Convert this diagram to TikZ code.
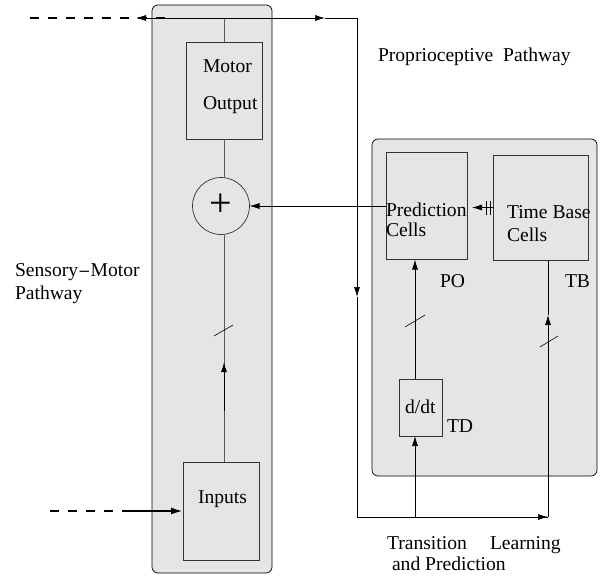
\documentclass[tikz,border=0pt]{standalone}
\usepackage{fontspec}
\setmainfont{Liberation Serif}
\usetikzlibrary{arrows.meta,calc}
\begin{document}
\begin{tikzpicture}[x=1pt,y=-1pt,
  every node/.style={inner sep=0pt,outer sep=0pt},
  lbl/.style={anchor=base west,font=\fontsize{19.6}{22}\selectfont},
  panel/.style={draw=black,fill=black!10,rounded corners=6pt,line width=0.7pt,rectangle},
  boxx/.style={draw=black!80,line width=0.7pt,rectangle},
  gl/.style={draw=black!65,line width=0.8pt},
  bl/.style={draw=black,line width=0.7pt},
  arr/.style={-{Latex[length=10pt,width=6pt]}},
  thickdash/.style={draw=black,line width=2pt,dash pattern=on 9pt off 9pt},
]
\useasboundingbox (0,0) rectangle (600,586);
% panels
\node[panel,minimum width=120,minimum height=568] (lp) at (212,289) {};
\node[panel,minimum width=225,minimum height=337] (rp) at (484.5,307.5) {};
% boxes
\node[boxx,minimum width=76,minimum height=97] (motor) at (224,90.5) {};
\node[draw=black!80,fill=black!10,circle,minimum size=57,line width=0.7pt] (sum) at (221,206) {};
\node[boxx,minimum width=76,minimum height=98] (inputs) at (221,511) {};
\node[boxx,minimum width=81,minimum height=107] (po) at (426.5,206) {};
\node[boxx,minimum width=95,minimum height=105] (tb) at (540.5,207.5) {};
\node[boxx,minimum width=43,minimum height=57] (ddt) at (420.5,407.5) {};
% texts
\node[lbl] (t1) at (203,73) {Motor};
\node[lbl] (t2) at (203,110) {Output};
\node[font=\fontsize{40}{40}\selectfont] (plus) at ($(sum.center)+(0,-1)$) {+};
\node[lbl] (t3) at (198,503) {Inputs};
\node[lbl] (t4) at (386,216) {Prediction};
\node[lbl] (t5) at (386,236) {Cells};
\node[lbl] (t6) at (507,218) {Time Base};
\node[lbl] (t7) at (507,241) {Cells};
\node[lbl] (t8) at (440,287) {PO};
\node[lbl] (t9) at (565,287) {TB};
\node[lbl] (t10) at (405,413) {d/dt};
\node[lbl] (t11) at (447,432) {TD};
\node[lbl] (t12) at (378,62) {Proprioceptive\ \ Pathway};
\node[lbl] (t13) at (15,276) {Sensory{\fontspec{DejaVu Serif}\fontsize{15}{15}\selectfont −}Motor};
\node[lbl] (t14) at (15,299) {Pathway};
\node[lbl] (t15) at (387,549) {Transition};
\node[lbl] (t16) at (490,549) {Learning};
\node[lbl] (t17) at (392,570) {and Prediction};
% coordinates
\coordinate (top) at (224,18);
\coordinate (tr) at (357,18);
\coordinate (tarr) at (325,18);
\coordinate (lout) at (136,18);
\coordinate (d1) at (165,18);
\coordinate (d2) at (30,18);
\coordinate (vmid) at (357,297);
\coordinate (bl) at (357,517);
\coordinate (br) at (548,517);
\coordinate (tbarr) at (548,315);
\coordinate (ddtb) at (415,517);
\coordinate (in1) at (50,511);
\coordinate (in2) at (122,511);
\coordinate (upa) at (224,411);
\coordinate (upb) at (224,362);
% left column
\draw[gl] (top) -- (motor.north -| top);
\draw[gl] (motor.south -| top) -- (sum.north -| top);
\draw[gl] (sum.south -| top) -- (inputs.north -| top);
\draw[bl,arr,line width=1pt] (upa) -- (upb);
\draw[bl,line width=0.6pt] (214,336) -- (233,325);
% top line
\draw[thickdash] (d1) -- (d2);
\draw[bl,arr] (top) -- (lout);
\draw[bl,arr] (top) -- (tarr);
\draw[bl] (tarr) -- (tr);
\draw[bl,arr] (tr) -- (vmid);
\draw[bl] (vmid) -- (bl) -- (br);
\draw[bl,arr] (bl) -- (br);
\draw[bl,arr] (br) -- (tbarr);
\draw[bl] (tbarr) -- (tb.south -| br);
\draw[bl,line width=0.6pt] (540,347) -- (558,336);
% d/dt path
\draw[bl,arr] (ddtb) -- (ddt.south -| ddtb);
\draw[bl,arr] (ddt.north -| ddtb) -- (po.south -| ddtb);
\draw[bl,line width=0.6pt] (405,327) -- (425,315);
% PO to sum
\draw[bl,arr] (po.west) -- (sum.east);
% TB to PO
\draw[bl,arr,shorten >=5pt] (tb.west) -- (po.east |- tb.west);
\draw[bl] (486,201) -- (486,215);
\draw[bl] (490,201) -- (490,215);
% inputs arrow
\draw[thickdash] (in1) -- (in2);
\draw[bl,line width=2pt,-{Latex[length=12pt,width=7pt]}] (in2) -- (inputs.west);
\end{tikzpicture}
\end{document}
